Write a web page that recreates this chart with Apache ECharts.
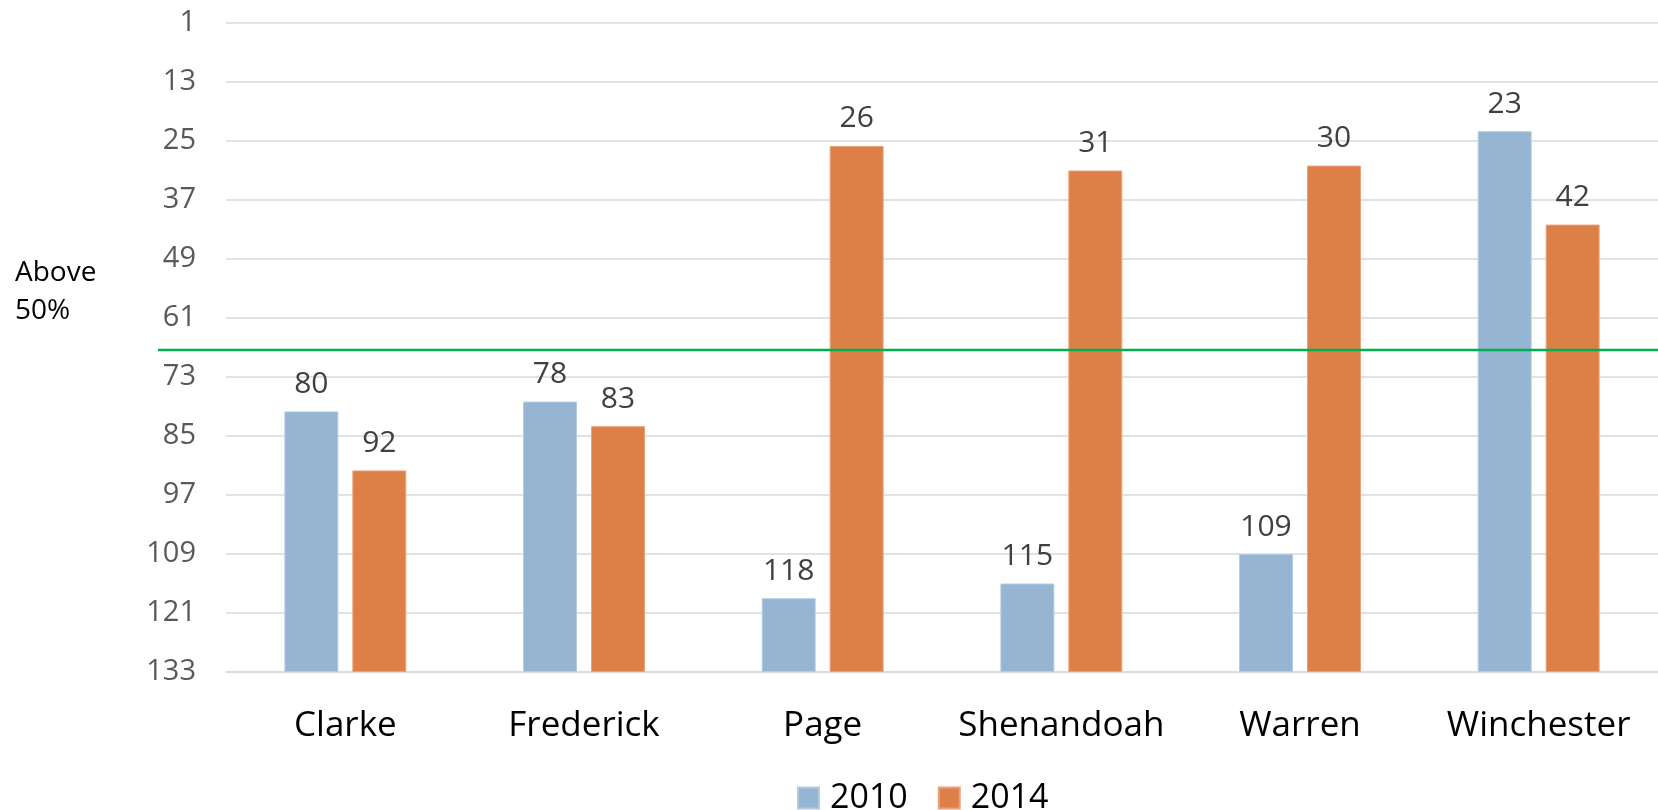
<!DOCTYPE html>
<html>
<head>
<meta charset="utf-8">
<script src="https://cdn.jsdelivr.net/npm/echarts@6/dist/echarts.min.js"></script>
<style>
  html, body { margin: 0; padding: 0; background: #fff; }
  #chart { width: 1658px; height: 810px; }
</style>
</head>
<body>
<div id="chart"></div>
<script>
const categories = ["Clarke", "Frederick", "Page", "Shenandoah", "Warren", "Winchester"];
const rank2010 = [80, 78, 118, 115, 109, 23];
const rank2014 = [92, 83, 26, 31, 30, 42];
const rankMin = 1;
const rankMax = 133;
const rankStep = 12;
const aboveLine = 67.5;

const FONT = "'Open Sans', sans-serif";
const chart = echarts.init(document.getElementById("chart"));

const barLabel = {
    show: true,
    position: "top",
    distance: 12,
    color: "#404040",
    fontSize: 30,
    fontFamily: FONT,
};

chart.setOption({
    animation: false,
    grid: { left: 226, right: 0, top: 23, bottom: 138 },
    legend: {
        data: ["2010", "2014"],
        left: 792,
        top: 776,
        icon: "rect",
        itemWidth: 21,
        itemHeight: 21,
        itemGap: 30,
        textStyle: { color: "#000", fontSize: 34, fontFamily: FONT, padding: [0, 0, 0, 6] },
    },
    xAxis: {
        type: "category",
        data: categories,
        axisLine: { lineStyle: { color: "#d9d9d9", width: 1.5 } },
        axisTick: { show: false },
        axisLabel: { interval: 0, color: "#000", fontSize: 35, fontFamily: FONT, margin: 37 },
    },
    yAxis: {
        type: "value",
        inverse: true,
        min: rankMin,
        max: rankMax,
        interval: rankStep,
        startValue: rankMax,
        axisLine: { show: false },
        axisTick: { show: false },
        axisLabel: { color: "#595959", fontSize: 29, fontFamily: FONT, margin: 30 },
        splitLine: { lineStyle: { color: "#d9d9d9", width: 1.5 } },
    },
    series: [
        {
            name: "2010",
            type: "bar",
            data: rank2010,
            barWidth: "22.6%",
            barGap: "26%",
            itemStyle: { color: "#95b5d3", borderColor: "#b4cbe1", borderWidth: 1 },
            label: barLabel,
        },
        {
            name: "2014",
            type: "bar",
            data: rank2014,
            barWidth: "22.6%",
            itemStyle: { color: "#dd8047", borderColor: "#e9a27a", borderWidth: 1 },
            label: barLabel,
        },
    ],
});

// the green threshold line runs past the plot area on the left
const lineY = chart.convertToPixel({ yAxisIndex: 0 }, aboveLine);
chart.setOption({
    graphic: [
        {
            type: "line",
            shape: { x1: 158, y1: lineY, x2: 1658, y2: lineY },
            style: { stroke: "#00b050", lineWidth: 2.5 },
            silent: true,
            z: 10,
        },
        {
            type: "text",
            left: 15,
            top: 254,
            style: { text: "Above\n50%", fill: "#000", font: "28px " + FONT, lineHeight: 38 },
        },
    ],
});
</script>
</body>
</html>
